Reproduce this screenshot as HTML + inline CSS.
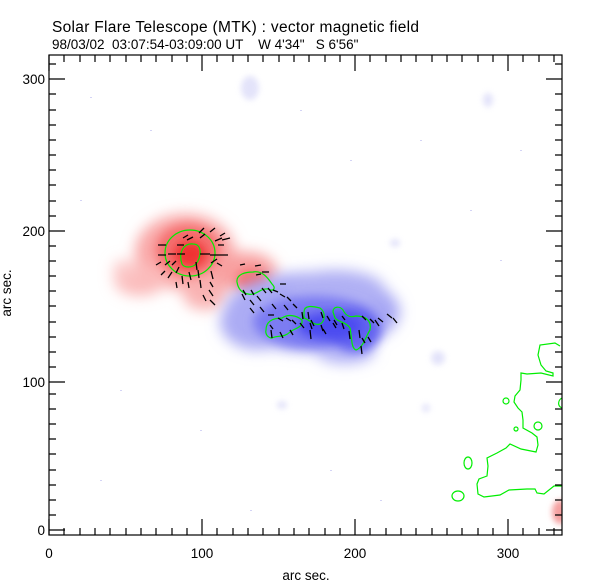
<!DOCTYPE html>
<html><head><meta charset="utf-8"><style>
html,body{margin:0;padding:0;background:#fff;}
svg{display:block;}
text{font-family:"Liberation Sans","DejaVu Sans",sans-serif;fill:#000;white-space:pre;}
</style></head><body>
<svg width="612" height="585" viewBox="0 0 612 585" xmlns="http://www.w3.org/2000/svg">
<defs>
<filter id="b6" x="-50%" y="-50%" width="200%" height="200%"><feGaussianBlur stdDeviation="5"/></filter>
<filter id="b10" x="-50%" y="-50%" width="200%" height="200%"><feGaussianBlur stdDeviation="7"/></filter>
<filter id="b3" x="-50%" y="-50%" width="200%" height="200%"><feGaussianBlur stdDeviation="3"/></filter>
<clipPath id="pc"><rect x="49" y="55" width="513" height="480"/></clipPath>
</defs>
<text x="52" y="32" font-size="15.5" letter-spacing="0.3" xml:space="preserve">Solar Flare Telescope (MTK) : vector magnetic field</text>
<text x="52" y="49" font-size="13.5" xml:space="preserve">98/03/02  03:07:54-03:09:00 UT    W 4'34"   S 6'56"</text>

<g clip-path="url(#pc)">
<g fill="#d8d8f8" filter="url(#b3)" opacity="0.7">
<ellipse cx="250" cy="88" rx="9" ry="12"/>
<ellipse cx="488" cy="100" rx="5" ry="7"/>
<ellipse cx="395" cy="243" rx="5" ry="4"/>
<ellipse cx="438" cy="358" rx="7" ry="7"/>
<ellipse cx="282" cy="405" rx="5" ry="4"/>
<ellipse cx="426" cy="408" rx="4" ry="4"/>
</g>
<!-- red region -->
<g filter="url(#b10)">
<ellipse cx="185" cy="252" rx="50" ry="38" fill="#f9a8a8"/>
<ellipse cx="140" cy="280" rx="26" ry="16" fill="#fbbcbc"/>
<ellipse cx="245" cy="272" rx="32" ry="20" fill="#f8a0a0"/>
<ellipse cx="205" cy="295" rx="22" ry="15" fill="#f9b4b4"/>
<ellipse cx="125" cy="270" rx="12" ry="10" fill="#fcc8c8"/>
</g>
<g filter="url(#b6)">
<ellipse cx="188" cy="250" rx="32" ry="26" fill="#f57070"/>
<ellipse cx="252" cy="280" rx="16" ry="11" fill="#f47070"/>
</g>
<ellipse cx="190" cy="254" rx="16" ry="13" fill="#f03030" filter="url(#b6)"/>
<!-- blue region -->
<g filter="url(#b10)">
<ellipse cx="312" cy="312" rx="88" ry="40" fill="#a8a8f4"/>
<ellipse cx="258" cy="322" rx="38" ry="28" fill="#acacf4"/>
<ellipse cx="335" cy="290" rx="50" ry="20" fill="#b0b0f4"/>
<ellipse cx="345" cy="350" rx="30" ry="14" fill="#b4b4f6"/>
</g>
<g filter="url(#b6)">
<ellipse cx="315" cy="322" rx="62" ry="26" fill="#7c7cf2"/>
<ellipse cx="355" cy="330" rx="26" ry="22" fill="#6464f0"/>
</g>
<ellipse cx="330" cy="326" rx="32" ry="14" fill="#4c4cf0" filter="url(#b6)"/>
<ellipse cx="560" cy="512" rx="8" ry="12" fill="#f5a0a0" filter="url(#b3)"/>

<g fill="none" stroke="#00ee00" stroke-width="1.2">
<ellipse cx="190" cy="253" rx="25" ry="23"/>
<path d="M182,264 C178,252 184,243 193,244 C203,244 201,258 196,264 C192,268 184,268 182,264Z"/>
<path d="M237,282 C236,274 246,272 253,272 C262,270 268,278 272,284 C276,288 274,292 268,289 C260,288 256,296 248,294 C241,293 238,288 237,282Z"/>
<path d="M266,330 C266,322 272,318 282,318 C288,314 296,315 302,320 C303,328 295,328 290,332 C284,338 278,335 272,338 C268,338 265,334 266,330Z"/>
<path d="M304,312 C304,305 312,306 320,308 C326,312 325,322 320,324 C314,326 310,320 304,318Z"/>
<path d="M333,312 C333,306 340,306 343,310 C346,316 350,318 356,316 C365,316 372,320 370,330 C366,336 363,348 356,350 C351,348 352,338 350,328 C346,322 338,322 335,318Z"/>
<path d="M560,346 L555,343 L540,345 L538,355 L541,365 L546,371 L553,373 L553,376 L541,373 L527,374 L521,373 L521,380 L520,390 L515,396 L514,402 L518,408 L522,412 L523,420 L523,428 L532,433 L537,437 L538,445 L536,452 L531,451 L521,449 L510,444 L506,448 L497,453 L487,458 L488,466 L487,476 L479,479 L477,484 L478,494 L484,497 L500,495 L509,490 L527,489 L535,489 L537,493 L544,494 L554,486 L562,486"/>
<circle cx="506" cy="401" r="3"/><circle cx="516" cy="429" r="2"/><circle cx="538" cy="426" r="4"/>
<ellipse cx="468" cy="463" rx="4" ry="6"/><ellipse cx="458" cy="496" rx="6" ry="5"/>
<path d="M562,398 C558,400 557,406 562,408"/>
</g>
<g stroke="#000" stroke-width="1.3" fill="none">
<path d="M158,245h8M177,245h7M218,245h6M222,240l8,-2M200,238l5,-4M199,233l5,-5M210,232l5,-4M220,236l5,-3
M158,255h8M168,254h8M177,254h8M200,254h10M210,255h10M220,255h8M165,265l5,-4M172,265l4,-4M211,263l6,-4M217,263l5,3
M168,278l4,-6M176,273l3,-6M196,262l1,8M198,270l1,8M189,272l2,8M211,271l2,8M182,276l1,8M200,280l1,8M209,290l4,6M210,300l5,5
M176,282l1,6M188,282l1,6M203,295l3,6M240,265l5,-1M255,266l6,-1M256,275l5,-1M262,272h7M243,290l3,5M251,290l3,5M262,288l4,5M268,288l4,5
M242,294l3,6M250,300l4,5M257,296l4,5M273,290l5,2M280,284h6M280,294l5,3M287,297l4,4M250,308l4,5M260,307l4,5M272,304l4,5M284,305l4,5M293,304l4,4
M268,315h6M270,325l3,4M278,318l5,3M286,318l5,3M292,320l4,4M302,312l1,7M308,312l1,7M311,320l3,6M321,312l2,6M327,316l3,5M334,320l3,5M342,323l2,6
M271,330l1,8M280,332l3,6M290,330l3,5M300,323l4,5M310,323l2,6M321,325l2,6M333,323l3,5M342,316l3,4M362,316l4,4M370,319l4,4M375,320l4,6
M310,330l1,9M323,329l3,5M349,331l1,8M359,330l1,8M362,338l3,5M368,337l3,5M361,346l1,8M378,318l5,4M387,314l5,4M393,318l4,5
M210,282l3,5M215,241l7,-3M183,238l5,-3M187,240l6,-3M156,265l5,-3M161,275l4,-4"/>
</g>
<g fill="#d4d4f6">
<rect x="90" y="97" width="2" height="1"/><rect x="150" y="130" width="2" height="1"/><rect x="300" y="110" width="2" height="1"/>
<rect x="350" y="160" width="2" height="1"/><rect x="420" y="140" width="2" height="1"/><rect x="470" y="210" width="2" height="1"/>
<rect x="120" y="390" width="2" height="1"/><rect x="200" y="430" width="2" height="1"/><rect x="330" y="470" width="2" height="1"/>
<rect x="380" y="500" width="2" height="1"/><rect x="100" y="480" width="2" height="1"/><rect x="250" y="510" width="2" height="1"/>
<rect x="520" y="150" width="2" height="1"/><rect x="500" y="260" width="2" height="1"/><rect x="80" y="200" width="2" height="1"/>
</g>
</g>

<rect x="49" y="55" width="513" height="480" fill="none" stroke="#000" stroke-width="1.2"/>
<g stroke="#000" stroke-width="1.2">
<path d="
M49,535v-16M202,535v-16M355,535v-16M508,535v-16
M49,55v16M202,55v16M355,55v16M508,55v16
M64,535v-7M80,535v-7M95,535v-7M110,535v-7M126,535v-7M141,535v-7M156,535v-7M172,535v-7M187,535v-7
M217,535v-7M233,535v-7M248,535v-7M263,535v-7M279,535v-7M294,535v-7M309,535v-7M325,535v-7M340,535v-7
M370,535v-7M386,535v-7M401,535v-7M416,535v-7M432,535v-7M447,535v-7M462,535v-7M478,535v-7M493,535v-7
M523,535v-7M539,535v-7M554,535v-7
M64,55v7M80,55v7M95,55v7M110,55v7M126,55v7M141,55v7M156,55v7M172,55v7M187,55v7
M217,55v7M233,55v7M248,55v7M263,55v7M279,55v7M294,55v7M309,55v7M325,55v7M340,55v7
M370,55v7M386,55v7M401,55v7M416,55v7M432,55v7M447,55v7M462,55v7M478,55v7M493,55v7
M523,55v7M539,55v7M554,55v7
M49,530h16M49,382h16M49,231h16M49,79h16
M562,530h-16M562,382h-16M562,231h-16M562,79h-16"/>
<path d="
M49,515h7M49,500h7M49,485h7M49,470h7M49,454h7M49,439h7M49,424h7M49,409h7M49,394h7
M49,367h7M49,352h7M49,337h7M49,322h7M49,306h7M49,291h7M49,276h7M49,261h7M49,246h7
M49,216h7M49,201h7M49,185h7M49,170h7M49,155h7M49,140h7M49,125h7M49,110h7M49,94h7M49,64h7"/>
<path d="
M562,515h-7M562,500h-7M562,485h-7M562,470h-7M562,454h-7M562,439h-7M562,424h-7M562,409h-7M562,394h-7
M562,367h-7M562,352h-7M562,337h-7M562,322h-7M562,306h-7M562,291h-7M562,276h-7M562,261h-7M562,246h-7
M562,216h-7M562,201h-7M562,185h-7M562,170h-7M562,155h-7M562,140h-7M562,125h-7M562,110h-7M562,94h-7M562,64h-7"/>
</g>
<g font-size="13.5">
<text x="49" y="558" text-anchor="middle">0</text>
<text x="202" y="558" text-anchor="middle">100</text>
<text x="355" y="558" text-anchor="middle">200</text>
<text x="508" y="558" text-anchor="middle">300</text>
<text x="45" y="535" text-anchor="end">0</text>
<text x="45" y="387" text-anchor="end">100</text>
<text x="45" y="236" text-anchor="end">200</text>
<text x="45" y="84" text-anchor="end">300</text>
<text x="306" y="580" text-anchor="middle">arc sec.</text>
<text transform="translate(11,293) rotate(-90)" text-anchor="middle">arc sec.</text>
</g>
</svg>
</body></html>
